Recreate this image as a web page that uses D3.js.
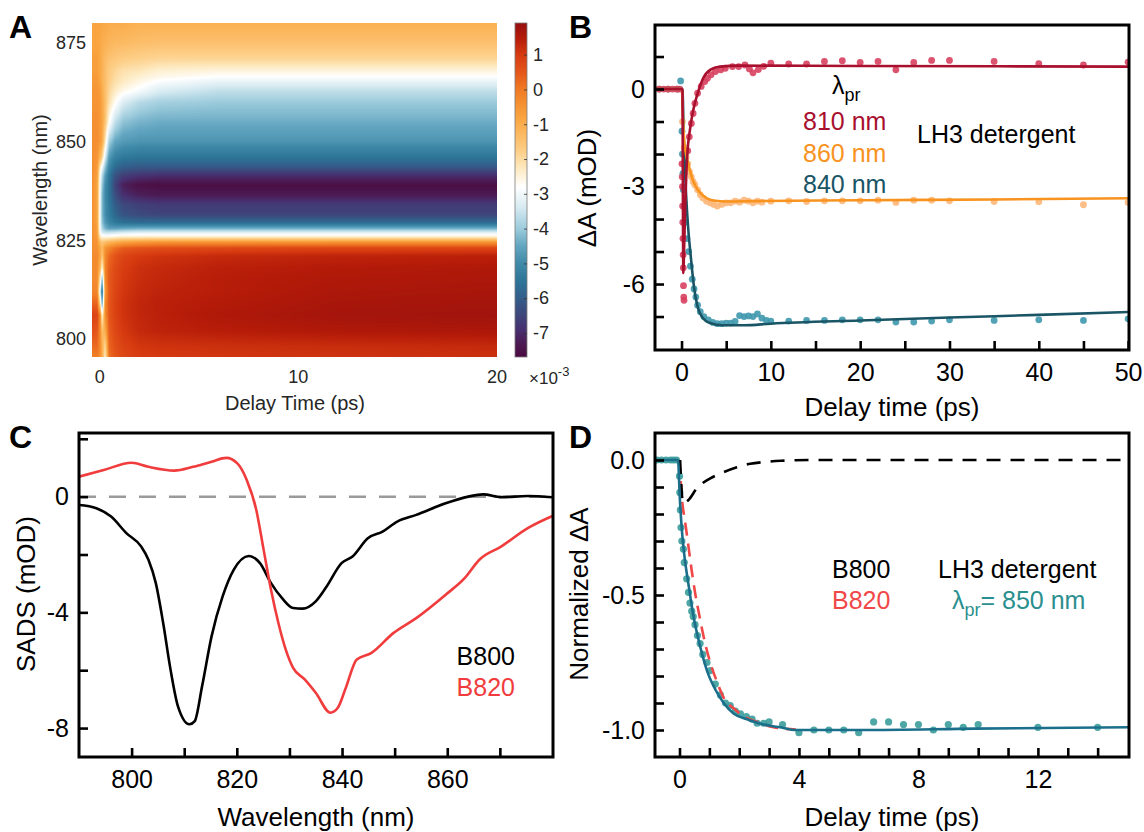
<!DOCTYPE html>
<html>
<head>
<meta charset="utf-8">
<script src="https://cdn.jsdelivr.net/npm/d3@7"></script>
<style>
  body { margin: 0; background: #fff; }
  svg text { font-family: "Liberation Sans", Arial, sans-serif; }
</style>
</head>
<body>
<svg id="fig" width="1144" height="832"></svg>
<script>
// ---------------- data ----------------
// Panel A: transient absorption map (x1e-3), rows = wavelength (nm), columns = delay (ps)
const mapTimes = [-0.35, -0.1, 0.05, 0.15, 0.3, 0.5, 0.8, 1.2, 2, 3, 6, 12, 20];
const mapWavelengths = [795, 798, 802, 806, 809, 812, 815, 818, 821, 823, 824.5, 825.8, 827, 828, 829.5,
  831.5, 834, 836.5, 839, 841.5, 843.5, 846, 850, 855, 860, 863, 865, 866.5, 868, 871, 875, 880];
const mapValues = [
  [-0.2, -0.1, -0.4, -0.9, -2.4, 0.1, 0.5, 0.75, 0.95, 1.0, 1.05, 1.1, 1.15],
  [0.2, 0.2, -0.3, -1.0, -2.0, 0.3, 0.6, 0.85, 1.05, 1.1, 1.15, 1.2, 1.25],
  [0.6, 0.5, -0.3, -1.4, -1.0, 0.4, 0.75, 1.0, 1.25, 1.35, 1.45, 1.55, 1.6],
  [0.9, 0.8, -0.2, -2.6, -0.4, 0.5, 0.85, 1.1, 1.3, 1.4, 1.55, 1.7, 1.75],
  [0.3, 0.3, -2.0, -4.6, -0.3, 0.5, 0.85, 1.1, 1.3, 1.4, 1.5, 1.65, 1.7],
  [-0.2, -0.2, -3.2, -5.6, -0.6, 0.45, 0.8, 1.05, 1.25, 1.35, 1.45, 1.6, 1.65],
  [-0.3, -0.3, -2.2, -4.4, -0.3, 0.45, 0.75, 1.0, 1.2, 1.3, 1.45, 1.55, 1.6],
  [-0.3, -0.3, -1.2, -2.6, -0.2, 0.4, 0.7, 0.95, 1.15, 1.25, 1.4, 1.5, 1.55],
  [-0.3, -0.3, -0.8, -1.6, -0.3, 0.25, 0.55, 0.8, 1.0, 1.1, 1.25, 1.35, 1.4],
  [-0.4, -0.4, -0.9, -1.3, -0.5, -0.2, 0.15, 0.4, 0.55, 0.65, 0.75, 0.8, 0.8],
  [-0.4, -0.5, -1.3, -1.6, -1.4, -1.2, -1.0, -0.8, -0.6, -0.5, -0.5, -0.5, -0.5],
  [-0.4, -0.6, -2.2, -2.5, -2.5, -2.5, -2.4, -2.3, -2.3, -2.3, -2.3, -2.3, -2.3],
  [-0.4, -0.7, -2.8, -3.4, -3.6, -3.6, -3.5, -3.4, -3.3, -3.3, -3.3, -3.3, -3.3],
  [-0.4, -0.7, -3.0, -3.8, -4.3, -4.6, -4.6, -4.5, -4.4, -4.4, -4.4, -4.4, -4.4],
  [-0.4, -0.8, -3.1, -4.1, -4.7, -5.1, -5.4, -5.6, -5.7, -5.7, -5.7, -5.7, -5.7],
  [-0.4, -0.8, -3.1, -4.2, -4.9, -5.3, -5.8, -6.2, -6.4, -6.5, -6.5, -6.5, -6.5],
  [-0.4, -0.8, -3.1, -4.2, -4.9, -5.4, -6.0, -6.4, -6.6, -6.7, -6.7, -6.7, -6.7],
  [-0.4, -0.8, -3.1, -4.2, -5.0, -5.5, -6.3, -6.9, -7.2, -7.3, -7.3, -7.3, -7.3],
  [-0.4, -0.8, -3.0, -4.0, -4.9, -5.5, -6.5, -7.2, -7.5, -7.6, -7.6, -7.6, -7.6],
  [-0.4, -0.7, -2.8, -3.7, -4.6, -5.4, -6.2, -6.6, -6.8, -6.9, -6.9, -6.9, -6.9],
  [-0.4, -0.6, -2.3, -3.0, -4.1, -5.1, -5.7, -6.0, -6.1, -6.1, -6.1, -6.1, -6.1],
  [-0.4, -0.5, -1.2, -1.8, -3.3, -4.7, -5.2, -5.4, -5.5, -5.5, -5.5, -5.5, -5.5],
  [-0.4, -0.4, -0.6, -0.9, -2.2, -3.9, -4.5, -4.7, -4.8, -4.8, -4.8, -4.8, -4.8],
  [-0.4, -0.4, -0.6, -0.8, -1.5, -2.7, -3.6, -4.1, -4.3, -4.4, -4.4, -4.4, -4.4],
  [-0.5, -0.5, -0.6, -0.9, -1.4, -2.1, -2.7, -3.3, -3.7, -3.9, -4.0, -4.0, -4.0],
  [-0.5, -0.5, -0.7, -1.0, -1.4, -1.9, -2.3, -2.6, -2.9, -3.3, -3.6, -3.6, -3.6],
  [-0.6, -0.6, -0.8, -1.1, -1.4, -1.8, -2.1, -2.3, -2.6, -2.9, -3.2, -3.2, -3.2],
  [-0.6, -0.6, -0.9, -1.1, -1.4, -1.7, -2.0, -2.2, -2.4, -2.6, -2.8, -2.8, -2.8],
  [-0.7, -0.7, -0.9, -1.1, -1.4, -1.7, -1.9, -2.1, -2.2, -2.4, -2.5, -2.5, -2.5],
  [-0.7, -0.7, -0.9, -1.1, -1.3, -1.5, -1.6, -1.7, -1.8, -1.9, -1.9, -1.9, -1.9],
  [-0.8, -0.8, -0.9, -1.0, -1.1, -1.2, -1.3, -1.3, -1.4, -1.45, -1.45, -1.45, -1.45],
  [-0.8, -0.8, -0.8, -0.9, -0.9, -1.0, -1.0, -1.0, -1.1, -1.1, -1.1, -1.1, -1.1]
];
const mapTimeTicks = [0, 10, 20];
const mapWlTicks = [800, 825, 850, 875];
const colorbarTicks = [1, 0, -1, -2, -3, -4, -5, -6, -7];
// colormap of the map (value x1e-3 -> colour)
const cmapStops = [
  [-7.7, "#4a0a40"], [-7.3, "#4c1a52"], [-6.9, "#473070"], [-6.4, "#3c4a7c"], [-6.0, "#335d8a"],
  [-5.5, "#2d7598"], [-5.0, "#3f89a8"], [-4.5, "#62a5c0"], [-4.0, "#9ccbdc"], [-3.4, "#d6eaf1"],
  [-2.8, "#ffffff"], [-2.3, "#fdebc4"], [-1.8, "#fdd08a"], [-1.2, "#fbb55a"], [-0.8, "#f9a440"],
  [0, "#f07a24"], [0.5, "#e4561a"], [1.0, "#d63a10"], [1.5, "#b31a08"], [1.9, "#961010"]
];

// Panel B: kinetics (delay ps, mOD)
const dots810 = [[-2.5,0],[-2,0],[-1.5,0],[-1,0],[-0.5,0],[-0.2,0],[0.05,-2.3],[0.08,-2.7],[0.1,-3.0],
  [0.12,-3.6],[0.14,-4.1],[0.16,-4.6],[0.18,-5.1],[0.2,-5.5],[0.22,-6.05],[0.25,-6.4],[0.28,-6.5],
  [0.5,-2.3],[0.7,-1.9],[0.87,-1.47],[1.1,-1.06],[1.3,-0.75],[1.5,-0.44],[1.8,-0.13],[2.2,0.08],
  [2.6,0.23],[2.9,0.33],[3.3,0.44],[3.8,0.54],[4.4,0.59],[4.9,0.64],[5.7,0.69],[6.4,0.69],[7.1,0.74],
  [7.6,0.62],[8.0,0.5],[8.6,0.6],[9.2,0.7],[10,0.8],[12,0.77],[14,0.77],[16,0.85],[18,0.87],[20,0.82],
  [22,0.85],[24,0.59],[26,0.82],[28,0.88],[30,0.88],[35,0.85],[40,0.78],[45,0.74],[50,0.83]];
const dots860 = [[-2.5,0],[-1.5,0],[-0.5,0],[0.1,-1.0],[0.3,-1.8],[0.5,-2.1],[0.7,-2.3],[0.9,-2.55],
  [1.1,-2.7],[1.3,-2.85],[1.5,-2.95],[1.8,-3.1],[2.1,-3.25],[2.4,-3.35],[2.8,-3.45],[3.2,-3.5],
  [3.6,-3.55],[4.0,-3.6],[4.5,-3.55],[5.0,-3.5],[5.5,-3.5],[6.0,-3.45],[6.5,-3.48],[7.0,-3.42],
  [7.5,-3.45],[8.0,-3.5],[8.5,-3.45],[9.0,-3.48],[10,-3.45],[12,-3.44],[14,-3.46],[16,-3.44],
  [18,-3.44],[20,-3.44],[22,-3.42],[24,-3.49],[26,-3.42],[28,-3.42],[30,-3.44],[35,-3.46],
  [40,-3.47],[45,-3.56],[50,-3.49]];
const dots840 = [[-2.5,0],[-1.5,0],[-0.5,0],[-0.1,0.25],[0.05,-1.3],[0.1,-2.0],[0.15,-2.6],[0.2,-3.1],
  [0.3,-3.6],[0.4,-4.1],[0.6,-4.6],[0.8,-5.0],[1.0,-5.45],[1.2,-5.85],[1.4,-6.15],[1.6,-6.4],
  [1.8,-6.65],[2.1,-6.85],[2.5,-7.0],[3.0,-7.1],[3.5,-7.18],[4.0,-7.22],[4.5,-7.22],[5.0,-7.2],
  [5.5,-7.2],[6.0,-7.15],[6.5,-6.97],[7.0,-7.0],[7.5,-6.98],[8.0,-7.0],[8.5,-6.92],[9.0,-7.05],
  [9.5,-7.12],[10,-7.14],[12,-7.14],[14,-7.12],[16,-7.12],[18,-7.1],[20,-7.1],[22,-7.1],[24,-7.17],
  [26,-7.17],[28,-7.14],[30,-7.1],[35,-7.12],[40,-7.1],[45,-7.12],[50,-7.07]];
const fit810 = [[-2.97,0],[0.1,0],[0.2,-5.66],[0.3,-4.8],[0.45,-3.3],[0.65,-2.0],[0.94,-1.26],
  [1.31,-0.65],[1.87,-0.08],[2.42,0.33],[3.2,0.59],[4.3,0.69],[6.5,0.72],[20,0.71],[50.1,0.69]];
const fit860 = [[-2.97,0],[0.05,0],[0.15,-0.8],[0.3,-1.6],[0.5,-2.0],[0.8,-2.35],[1.2,-2.75],[1.6,-3.0],
  [2.1,-3.2],[2.9,-3.37],[3.8,-3.44],[5,-3.46],[8,-3.45],[20,-3.42],[35,-3.4],[50.1,-3.36]];
const fit840 = [[-2.97,0],[0.1,0],[0.25,-1.5],[0.5,-3.2],[0.75,-4.3],[1.0,-5.05],[1.4,-6.1],[1.8,-6.7],
  [2.4,-7.05],[3.2,-7.2],[4.6,-7.27],[7,-7.27],[10,-7.22],[20,-7.12],[30,-7.03],[40,-6.95],[50.1,-6.86]];
const kinTicksX = d3.range(0, 51, 5);
const kinLabelsX = [0, 10, 20, 30, 40, 50];
const kinTicksY = [1, 0, -1, -2, -3, -4, -5, -6, -7];
const kinLabelsY = [0, -3, -6];

// Panel C: SADS (nm, mOD)
const sadsB800 = [[790,-0.29],[793.3,-0.40],[796.1,-0.69],[799,-1.26],[801.8,-1.72],[803.2,-2.18],
  [804.6,-2.99],[806,-4.37],[807.4,-5.98],[808.8,-7.24],[811,-7.87],[812,-7.76],[813.4,-6.55],
  [815.2,-4.83],[817.3,-3.45],[819.4,-2.53],[822.3,-2.05],[824.4,-2.30],[826.5,-2.99],[828.6,-3.51],
  [830.7,-3.85],[832.5,-3.87],[835,-3.62],[837.1,-3.10],[839.9,-2.30],[842,-2.07],[844.9,-1.44],
  [847.7,-1.21],[850.5,-0.86],[854.1,-0.63],[859.7,-0.23],[864,0],[866.8,0.08],[870.3,-0.02],
  [875.3,0.02],[880,-0.02]];
const sadsB820 = [[790,0.69],[794.7,0.92],[800,1.17],[803.2,1.03],[808.1,0.90],[811.7,1.03],[815.2,1.21],
  [818,1.34],[820.1,1.15],[821.9,0.57],[823.7,-0.46],[825.1,-1.84],[826.5,-3.22],[827.9,-4.37],
  [829.3,-5.29],[830.7,-5.92],[832.9,-6.32],[835,-6.78],[837.8,-7.47],[839.2,-7.30],[840.6,-6.67],
  [842.8,-5.63],[845.6,-5.40],[849.8,-4.71],[854.1,-4.20],[859.7,-3.39],[863.3,-2.82],[866.1,-2.18],
  [870.3,-1.72],[875.3,-1.09],[880,-0.67]];
const sadsTicksX = [800, 810, 820, 830, 840, 850, 860, 870];
const sadsLabelsX = [800, 820, 840, 860];
const sadsTicksY = [2, 0, -2, -4, -6, -8];
const sadsLabelsY = [0, -4, -8];

// Panel D: normalised kinetics at 850 nm
const dots850 = [[-0.75,0],[-0.6,0],[-0.45,0],[-0.3,0],[-0.2,0],[-0.1,0],[0.0,-0.06],[0.01,-0.12],
  [0.03,-0.185],[0.05,-0.25],[0.08,-0.3],[0.13,-0.33],[0.16,-0.38],[0.24,-0.44],[0.3,-0.49],[0.35,-0.53],
  [0.41,-0.56],[0.46,-0.58],[0.52,-0.61],[0.6,-0.65],[0.69,-0.68],[0.78,-0.72],[0.92,-0.75],[1.03,-0.78],
  [1.2,-0.83],[1.37,-0.87],[1.54,-0.9],[1.7,-0.91],[1.87,-0.93],[2.04,-0.94],[2.24,-0.95],[2.43,-0.96],
  [2.6,-0.975],[2.82,-0.975],[3.0,-0.97],[3.45,-0.98],[4,-1.01],[4.5,-1.0],[5,-1.0],[5.5,-1.0],
  [6,-1.01],[6.5,-0.97],[7,-0.97],[7.5,-0.98],[8,-0.98],[8.5,-1.0],[9,-0.98],[9.5,-0.99],[10,-0.98],
  [12,-0.99],[14,-0.99]];
const fit850 = [[-0.82,0],[-0.05,0],[0.01,-0.14],[0.08,-0.26],[0.17,-0.36],[0.3,-0.46],[0.47,-0.58],
  [0.69,-0.69],[0.92,-0.78],[1.2,-0.85],[1.48,-0.9],[1.82,-0.94],[2.26,-0.96],[2.82,-0.98],[3.38,-0.99],
  [3.9,-1.0],[6.1,-1.0],[9.9,-0.995],[15.05,-0.99]];
const compB820 = [[0,0],[0.08,-0.14],[0.19,-0.23],[0.3,-0.32],[0.41,-0.41],[0.52,-0.49],[0.69,-0.59],
  [0.86,-0.68],[1.03,-0.75],[1.25,-0.82],[1.53,-0.89],[1.82,-0.92],[2.15,-0.95],[2.6,-0.97],[3.15,-0.99],
  [3.9,-0.998]];
const compB800 = [[0.02,0],[0.12,-0.16],[0.3,-0.148],[0.58,-0.105],[1.03,-0.068],[1.42,-0.048],
  [1.92,-0.027],[2.37,-0.014],[2.87,-0.007],[3.4,-0.003],[4.5,0],[15.05,0]];
const normTicksX = d3.range(0, 15, 1);
const normLabelsX = [0, 4, 8, 12];
const normTicksY = d3.range(0, 11).map(i => -i / 10);
const normLabelsY = [0, -0.5, -1];

// ---------------- drawing ----------------
const svg = d3.select("#fig");
const defs = svg.append("defs");
const greyText = "#262626";

// helper: boxed axes with inward ticks
function boxAxes(x, y, o) {
    const g = svg.append("g");
    const [x0, x1] = x.range(), [y0, y1] = y.range();
    g.append("g")
        .attr("transform", `translate(0,${y0})`)
        .call(d3.axisBottom(x).tickValues(o.xt).tickSize(-9).tickPadding(13)
            .tickFormat(d => o.xl.includes(d) ? o.xf(d) : ""))
        .call(a => a.select(".domain").remove());
    g.append("g")
        .attr("transform", `translate(${x0},0)`)
        .call(d3.axisLeft(y).tickValues(o.yt).tickSize(-9).tickPadding(10)
            .tickFormat(d => o.yl.some(v => Math.abs(v - d) < 1e-9) ? o.yf(d) : ""))
        .call(a => a.select(".domain").remove());
    g.selectAll(".tick line").attr("stroke", "#000").attr("stroke-width", 2.6);
    g.selectAll(".tick text").attr("fill", "#000").style("font-size", "25px");
    g.append("rect")
        .attr("x", x0).attr("y", y1).attr("width", x1 - x0).attr("height", y0 - y1)
        .attr("fill", "none").attr("stroke", "#000").attr("stroke-width", 3);
    return g;
}

function clipFor(id, x, y) {
    const [x0, x1] = x.range(), [y0, y1] = y.range();
    defs.append("clipPath").attr("id", id).append("rect")
        .attr("x", x0).attr("y", y1).attr("width", x1 - x0).attr("height", y0 - y1);
    return svg.append("g").attr("clip-path", `url(#${id})`);
}

function panelLabel(txt, x, y) {
    svg.append("text").attr("x", x).attr("y", y).text(txt)
        .style("font-size", "32px").style("font-weight", "bold");
}

function title(txt, x, y, size, rotate, color) {
    svg.append("text")
        .attr("transform", `translate(${x},${y})` + (rotate ? " rotate(-90)" : ""))
        .attr("text-anchor", "middle")
        .attr("fill", color || "#000")
        .style("font-size", size + "px")
        .text(txt);
}

// ---------- Panel A ----------
const xA = d3.scaleLinear().domain([-0.36, 20.03]).range([92, 497]);
const yA = d3.scaleLinear().domain([795.4, 880.07]).range([357, 23]);
const colorA = d3.scaleLinear().domain(cmapStops.map(d => d[0])).range(cmapStops.map(d => d[1])).clamp(true);

function mapAt(t, w) {
    const nT = mapTimes.length, nW = mapWavelengths.length;
    const i = Math.max(0, Math.min(nT - 2, d3.bisectRight(mapTimes, t) - 1));
    const j = Math.max(0, Math.min(nW - 2, d3.bisectRight(mapWavelengths, w) - 1));
    const fx = Math.max(0, Math.min(1, (t - mapTimes[i]) / (mapTimes[i + 1] - mapTimes[i])));
    const fy = Math.max(0, Math.min(1, (w - mapWavelengths[j]) / (mapWavelengths[j + 1] - mapWavelengths[j])));
    const a = mapValues[j][i], b = mapValues[j][i + 1], c = mapValues[j + 1][i], d = mapValues[j + 1][i + 1];
    return (1 - fy) * ((1 - fx) * a + fx * b) + fy * ((1 - fx) * c + fx * d);
}

{
    const W = xA.range()[1] - xA.range()[0], H = yA.range()[0] - yA.range()[1];
    const canvas = document.createElement("canvas");
    canvas.width = W; canvas.height = H;
    const ctx = canvas.getContext("2d");
    const img = ctx.createImageData(W, H);
    const lut = d3.range(1024).map(k => d3.rgb(colorA(-7.7 + 9.6 * k / 1023)));
    for (let py = 0; py < H; py++) {
        const w = yA.invert(yA.range()[1] + py + 0.5);
        for (let px = 0; px < W; px++) {
            const t = xA.invert(xA.range()[0] + px + 0.5);
            const v = mapAt(t, w);
            const k = Math.max(0, Math.min(1023, Math.round((v + 7.7) / 9.6 * 1023)));
            const c = lut[k], o = (py * W + px) * 4;
            img.data[o] = c.r; img.data[o + 1] = c.g; img.data[o + 2] = c.b; img.data[o + 3] = 255;
        }
    }
    ctx.putImageData(img, 0, 0);
    svg.append("image")
        .attr("x", xA.range()[0]).attr("y", yA.range()[1])
        .attr("width", W).attr("height", H)
        .attr("href", canvas.toDataURL());
}

const axA = svg.append("g");
axA.append("g").attr("transform", `translate(0,${yA.range()[0]})`)
    .call(d3.axisBottom(xA).tickValues(mapTimeTicks).tickSize(0).tickPadding(13).tickFormat(d => String(d)));
axA.append("g").attr("transform", `translate(${xA.range()[0]},0)`)
    .call(d3.axisLeft(yA).tickValues(mapWlTicks).tickSize(0).tickPadding(6).tickFormat(d => String(d)));
axA.selectAll(".domain").remove();
axA.selectAll(".tick text").attr("fill", greyText).style("font-size", "18px");

// colorbar
const cbY = d3.scaleLinear().domain([-7.69, 1.91]).range([357, 23]);
const grad = defs.append("linearGradient").attr("id", "cbgrad")
    .attr("x1", 0).attr("y1", 1).attr("x2", 0).attr("y2", 0);
cmapStops.forEach(s => grad.append("stop")
    .attr("offset", Math.max(0, Math.min(1, (s[0] + 7.69) / 9.6)))
    .attr("stop-color", s[1]));
svg.append("rect").attr("x", 515).attr("y", 23).attr("width", 12).attr("height", 334)
    .attr("fill", "url(#cbgrad)").attr("stroke", "#7a7a7a").attr("stroke-width", 0.8);
const cbAxis = svg.append("g").attr("transform", "translate(527,0)")
    .call(d3.axisRight(cbY).tickValues(colorbarTicks).tickSize(-3).tickPadding(6).tickFormat(d => String(d)));
cbAxis.select(".domain").remove();
cbAxis.selectAll(".tick line").attr("stroke", "#333").attr("stroke-width", 0.8);
cbAxis.selectAll(".tick text").attr("fill", greyText).style("font-size", "18px");
svg.append("text").attr("x", 529).attr("y", 384).attr("fill", greyText).style("font-size", "17px")
    .text("\u00d710")
    .append("tspan").attr("dy", -8).style("font-size", "13px").text("-3");

title("Delay Time (ps)", 295, 410, 20, false, greyText);
title("Wavelength (nm)", 47, 190, 20, true, greyText);
panelLabel("A", 9, 38);

// ---------- Panel B ----------
const xB = d3.scaleLinear().domain([-2.97, 50.1]).range([655, 1129]);
const yB = d3.scaleLinear().domain([-8.03, 1.97]).range([350, 25]);
const lineB = d3.line().x(d => xB(d[0])).y(d => yB(d[1])).curve(d3.curveMonotoneX);
const gB = clipFor("clipB", xB, yB);
const seriesB = [
    { dots: dots840, fit: fit840, dot: "#3f98ae", line: "#1a5566" },
    { dots: dots860, fit: fit860, dot: "#fdb77a", line: "#f7931e" },
    { dots: dots810, fit: fit810, dot: "#d7405f", line: "#a8102e" }
];
seriesB.forEach(s => {
    gB.append("g").selectAll("circle").data(s.dots).enter().append("circle")
        .attr("cx", d => xB(d[0])).attr("cy", d => yB(d[1])).attr("r", 3.4)
        .attr("fill", s.dot).attr("fill-opacity", 0.9);
});
seriesB.forEach(s => {
    gB.append("path").datum(s.fit).attr("d", lineB)
        .attr("fill", "none").attr("stroke", s.line).attr("stroke-width", 2.6);
});
boxAxes(xB, yB, { xt: kinTicksX, xl: kinLabelsX, xf: d => String(d), yt: kinTicksY, yl: kinLabelsY, yf: d => String(d) });

const lam = svg.append("text").attr("x", 832).attr("y", 94).style("font-size", "25px");
lam.append("tspan").text("\u03bb");
lam.append("tspan").attr("dy", 7).style("font-size", "18px").text("pr");
[["810 nm", 130, "#a8102e"], ["860 nm", 162, "#f7931e"], ["840 nm", 193, "#1a5566"]].forEach(r => {
    svg.append("text").attr("x", 803).attr("y", r[1]).attr("fill", r[2]).style("font-size", "25px").text(r[0]);
});
svg.append("text").attr("x", 917).attr("y", 143).style("font-size", "25px").text("LH3 detergent");
title("Delay time (ps)", 892, 416, 26, false);
title("\u0394A (mOD)", 596, 188, 26, true);
panelLabel("B", 569, 38);

// ---------- Panel C ----------
const xC = d3.scaleLinear().domain([790, 880.1]).range([79, 553]);
const yC = d3.scaleLinear().domain([-9, 2.2]).range([757, 433]);
const lineC = d3.line().x(d => xC(d[0])).y(d => yC(d[1])).curve(d3.curveMonotoneX);
const gC = clipFor("clipC", xC, yC);
gC.append("line").attr("x1", xC(790)).attr("x2", xC(880.1)).attr("y1", yC(0)).attr("y2", yC(0))
    .attr("stroke", "#9a9a9a").attr("stroke-width", 2.5).attr("stroke-dasharray", "17,13");
gC.append("path").datum(sadsB800).attr("d", lineC).attr("fill", "none").attr("stroke", "#000").attr("stroke-width", 2.6);
gC.append("path").datum(sadsB820).attr("d", lineC).attr("fill", "none").attr("stroke", "#f03c3c").attr("stroke-width", 2.6);
boxAxes(xC, yC, { xt: sadsTicksX, xl: sadsLabelsX, xf: d => String(d), yt: sadsTicksY, yl: sadsLabelsY, yf: d => String(d) });
svg.append("text").attr("x", 515).attr("y", 665).attr("text-anchor", "end").style("font-size", "25px").text("B800");
svg.append("text").attr("x", 515).attr("y", 696).attr("text-anchor", "end").attr("fill", "#f03c3c").style("font-size", "25px").text("B820");
title("Wavelength (nm)", 316, 826, 26, false);
title("SADS (mOD)", 35, 594, 26, true);
panelLabel("C", 9, 448);

// ---------- Panel D ----------
const xD = d3.scaleLinear().domain([-0.82, 15.05]).range([655, 1129]);
const yD = d3.scaleLinear().domain([-1.1, 0.1]).range([757, 433]);
const lineD = d3.line().x(d => xD(d[0])).y(d => yD(d[1])).curve(d3.curveMonotoneX);
const gD = clipFor("clipD", xD, yD);
gD.append("g").selectAll("circle").data(dots850).enter().append("circle")
    .attr("cx", d => xD(d[0])).attr("cy", d => yD(d[1])).attr("r", 3.6)
    .attr("fill", "#3b9d9b").attr("fill-opacity", 0.9);
gD.append("path").datum(compB820).attr("d", lineD).attr("fill", "none")
    .attr("stroke", "#f04848").attr("stroke-width", 2.6).attr("stroke-dasharray", "13,8");
gD.append("path").datum(compB800).attr("d", lineD).attr("fill", "none")
    .attr("stroke", "#000").attr("stroke-width", 2.6).attr("stroke-dasharray", "14,10");
gD.append("path").datum(fit850).attr("d", lineD).attr("fill", "none")
    .attr("stroke", "#1b6f8b").attr("stroke-width", 2.6);
boxAxes(xD, yD, { xt: normTicksX, xl: normLabelsX, xf: d => String(d), yt: normTicksY, yl: normLabelsY, yf: d => d.toFixed(1) });
svg.append("text").attr("x", 832).attr("y", 578).style("font-size", "25px").text("B800");
svg.append("text").attr("x", 832).attr("y", 609).attr("fill", "#f04848").style("font-size", "25px").text("B820");
svg.append("text").attr("x", 938).attr("y", 578).style("font-size", "25px").text("LH3 detergent");
const lamD = svg.append("text").attr("x", 952).attr("y", 609).attr("fill", "#2b8f8f").style("font-size", "25px");
lamD.append("tspan").text("\u03bb");
lamD.append("tspan").attr("dy", 7).style("font-size", "18px").text("pr");
lamD.append("tspan").attr("dy", -7).text("= 850 nm");
title("Delay time (ps)", 892, 826, 26, false);
title("Normalized \u0394A", 588, 594, 26, true);
panelLabel("D", 569, 448);
</script>
</body>
</html>
